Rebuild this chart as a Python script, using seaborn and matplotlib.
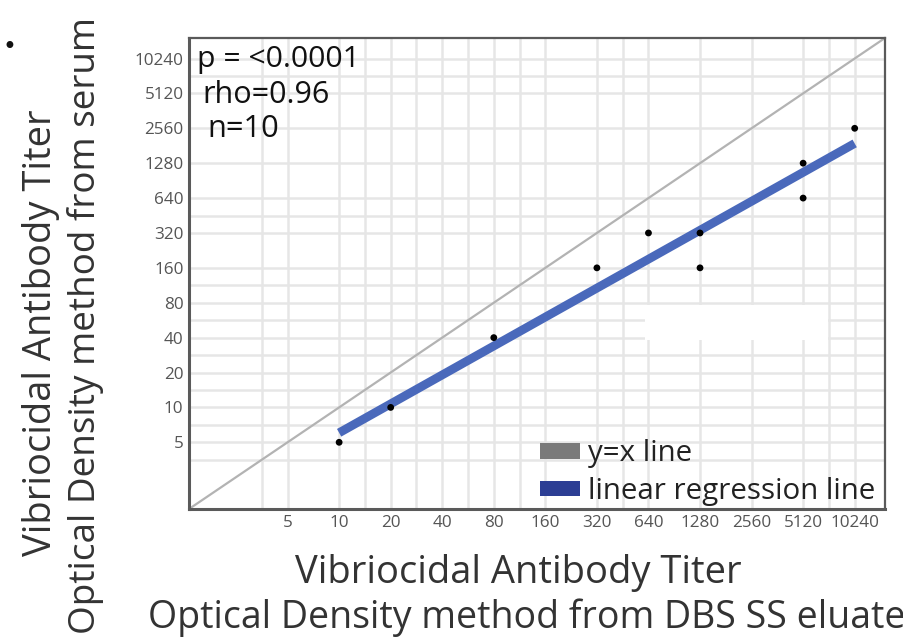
import numpy as np
import pandas as pd
import matplotlib
matplotlib.use("Agg")
import matplotlib.pyplot as plt
import seaborn as sns
from matplotlib.patches import Patch, Rectangle

# ---- data ----
dbs_titer = [10, 20, 80, 320, 640, 1280, 1280, 5120, 5120, 10240]
serum_titer = [5, 10, 40, 160, 320, 320, 160, 1280, 640, 2560]
tick_titers = [5, 10, 20, 40, 80, 160, 320, 640, 1280, 2560, 5120, 10240]
stat_lines = ["p = <0.0001", "rho=0.96", "n=10"]
legend_labels = ["y=x line", "linear regression line"]
xlabel_lines = ["Vibriocidal Antibody Titer", "Optical Density method from DBS SS eluate"]
ylabel_lines = ["Vibriocidal Antibody Titer", "Optical Density method from serum"]

sns.set_theme(style="white")
plt.rcParams["font.family"] = ["Open Sans", "DejaVu Sans"]

W, H = 904, 640
fig = plt.figure(figsize=(W / 100, H / 100), dpi=100)
L, R, B, T = 189, 885, 509, 38
ax = fig.add_axes([L / W, 1 - B / H, (R - L) / W, (B - T) / H])

df = pd.DataFrame({"dbs": np.log2(dbs_titer), "serum": np.log2(serum_titer)})
lo, hi = 0.41, 13.91

# grid
lt = np.log2(tick_titers)
x_minor = [lt[0] - 0.5, lt[1] + 0.5, lt[2] + 0.5, lt[3] + 0.5, lt[4] + 0.5, lt[6] + 0.5, lt[10] + 0.5]
y_minor = [lt[0] - 0.5, lt[0] + 0.5, lt[1] + 0.5, lt[2] + 0.5, lt[3] + 0.5, lt[4] + 0.5, lt[6] + 0.5, lt[10] + 0.5]
ax.set_axisbelow(True)
ax.set_xticks(lt)
ax.set_yticks(lt)
ax.set_xticks(x_minor, minor=True)
ax.set_yticks(y_minor, minor=True)
ax.grid(True, which="both", color="#e6e6e6", lw=1.8)
ax.add_patch(Rectangle((0.655, 0.359), 0.263, 0.074, transform=ax.transAxes,
                       facecolor="white", edgecolor="none", zorder=0.9))

# y = x line
ax.axline((lo, lo), slope=1, color="#b3b3b3", lw=1.6, zorder=2)

# regression + points
sns.regplot(data=df, x="dbs", y="serum", ci=None, scatter=False, truncate=True,
            color="#4a69bb", line_kws={"lw": 6.3, "solid_capstyle": "butt", "zorder": 3}, ax=ax)
sns.scatterplot(data=df, x="dbs", y="serum", color="black", s=24, edgecolor="none",
                zorder=4, ax=ax, legend=False)

ax.set_xlim(lo, hi)
ax.set_ylim(lo, hi)
ax.set_xlabel("")
ax.set_ylabel("")
ax.set_xticklabels([str(t) for t in tick_titers])
ax.set_yticklabels([str(t) for t in tick_titers])
ax.tick_params(which="major", length=2.5, width=1.5, color="#333333", direction="out",
               labelsize=12.3, labelcolor="#555555", pad=1.5)
ax.tick_params(which="minor", length=0)
for s in ax.spines.values():
    s.set_color("#5a5a5a")
    s.set_linewidth(1.6)
ax.spines["left"].set_linewidth(2.2)
ax.spines["bottom"].set_linewidth(2.2)

renderer = fig.canvas.get_renderer()


def fit(t, target, vertical=False):
    bb = t.get_window_extent(renderer)
    w = bb.height if vertical else bb.width
    t.set_fontsize(t.get_fontsize() * target / w)


def px(x, y):
    return x / W, 1 - y / H


# stats text
for txt, (x, y, w) in zip(stat_lines, [(197, 67, 162), (202, 103, 127), (207, 137, 72)]):
    t = fig.text(*px(x, y), txt, ha="left", va="baseline", color="#111111", fontsize=15)
    fit(t, w)

# axis labels
for txt, (x, y, w) in zip(xlabel_lines, [(295, 583, 445), (148, 628, 756)]):
    t = fig.text(*px(x, y), txt, ha="left", va="baseline", color="#333333", fontsize=20)
    fit(t, w)
for txt, (x, y, w) in zip(ylabel_lines, [(51, 333, 445), (95, 325, 616)]):
    t = fig.text(*px(x, y), txt, ha="center", va="baseline", rotation=90,
                 rotation_mode="anchor", color="#333333", fontsize=20)
    fit(t, w, vertical=True)

fig.text(*px(9, 47), "\u2022", ha="center", va="center", fontsize=17,
         family="DejaVu Sans", color="#111111")

# legend
tmp = fig.text(0, 0, legend_labels[1], fontsize=20)
fit(tmp, 287)
lfs = tmp.get_fontsize()
tmp.remove()
handles = [Patch(facecolor="#7a7a7a", edgecolor="none"), Patch(facecolor="#2c3e94", edgecolor="none")]
fpx = lfs * 100 / 72
leg = ax.legend(handles, legend_labels, loc="lower left",
                bbox_to_anchor=px(540, 506), bbox_transform=fig.transFigure,
                frameon=False, fontsize=lfs, borderpad=0, borderaxespad=0,
                handlelength=40 / fpx, handleheight=0.45, handletextpad=8 / fpx,
                labelspacing=0.3)
for t in leg.get_texts():
    t.set_color("#222222")

fig.savefig("out.png", dpi=100)
